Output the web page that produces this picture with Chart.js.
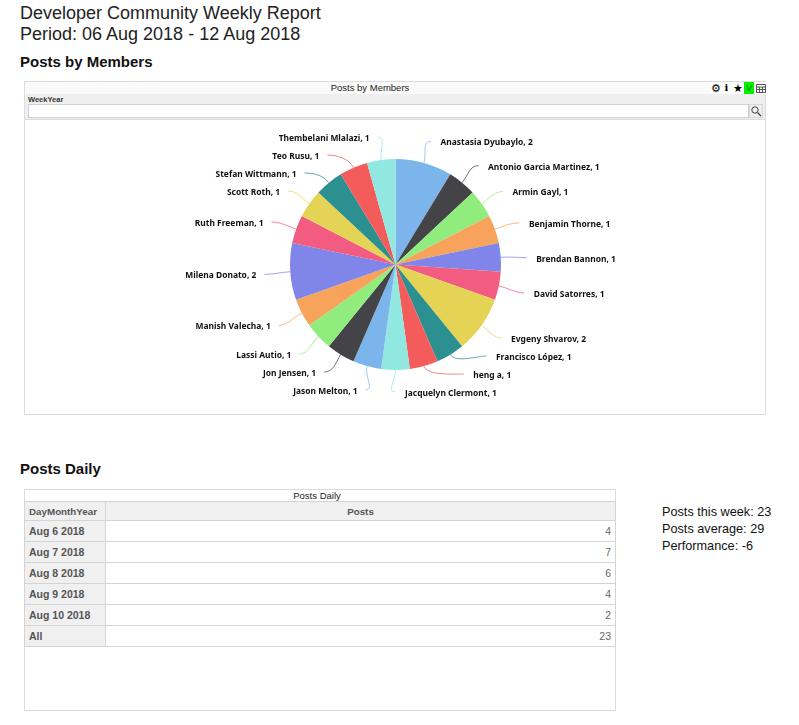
<!DOCTYPE html>
<html>
<head>
<meta charset="utf-8">
<title>Developer Community Weekly Report</title>
<script src="https://cdn.jsdelivr.net/npm/chart.js@4"></script>
<style>
  html, body { margin: 0; padding: 0; background: #fff; }
  body { width: 799px; height: 725px; position: relative; overflow: hidden; font-family: "Liberation Sans", Arial, sans-serif; color: #111; }
  .abs { position: absolute; white-space: nowrap; }
  .title { left: 20px; font-size: 18px; line-height: 21px; color: #222; }
  .section { left: 20px; font-size: 15px; font-weight: bold; line-height: 18px; color: #111; }
  .panel { border: 1px solid #dcdcdc; box-sizing: border-box; background: #fff; }
  .bar { text-align: center; font-size: 9.5px; line-height: 12px; color: #222; }
  .tool { top: 82px; width: 11px; height: 12px; line-height: 12px; text-align: center; font-size: 11px; background: #fff; color: #000; }
  #daily { position: absolute; left: 24px; top: 501px; border-collapse: collapse; table-layout: fixed; width: 592px; font-size: 10.5px; color: #555; }
  #daily th, #daily td { border: 1px solid #d4d4d4; padding: 0 4px; height: 21px; box-sizing: border-box; }
  #daily th { background: #f0f0f0; font-weight: bold; text-align: left; }
  #daily thead th { height: 19px; text-align: center; font-size: 9.8px; }
  #daily thead th:first-child { text-align: left; }
  #daily td { text-align: right; color: #666; }
  .stat { left: 662px; font-size: 12.7px; line-height: 17px; color: #111; }
</style>
</head>
<body>
<div class="abs title" style="top:3px">Developer Community Weekly Report</div>
<div class="abs title" style="top:24px">Period: 06 Aug 2018 - 12 Aug 2018</div>
<div class="abs section" style="top:53px">Posts by Members</div>

<div class="abs panel" style="left:24px;top:81px;width:742px;height:334px"></div>
<div class="abs bar" style="left:25px;top:82px;height:12px;background:#fafafa;width:740px"></div>
<div class="abs bar" style="left:25px;top:82px;width:690px;height:12px">Posts by Members</div>
<div class="abs tool" style="left:710px">&#9881;</div>
<div class="abs tool" style="left:721px;font-size:10px;font-weight:bold;font-family:'DejaVu Serif'">i</div>
<div class="abs tool" style="left:732px">&#9733;</div>
<div class="abs tool" style="left:744px;width:10px;background:#00f000;color:#0a8a0a;font-size:9px;font-style:italic">V</div>
<div class="abs tool" style="left:755px">
  <svg width="10" height="9" style="margin-top:2px;display:block;margin-left:1px"><path d="M.5 .5h9v8h-9zM.5 3h9M.5 5.5h9M3.5 3v5.5M6.5 3v5.5" fill="none" stroke="#555"/></svg>
</div>
<div class="abs" style="left:25px;top:94px;width:740px;height:25px;background:#efefef;border-bottom:1px solid #ddd"></div>
<div class="abs" style="left:28px;top:95px;font-size:7.5px;font-weight:bold;line-height:9px;color:#333">WeekYear</div>
<div class="abs" style="left:28px;top:104px;width:721px;height:14px;box-sizing:border-box;background:#fff;border:1px solid #cfcfcf"></div>
<div class="abs" style="left:749px;top:104px;width:14px;height:14px;box-sizing:border-box;background:#eee;border:1px solid #d8d8d8">
  <svg width="12" height="12" style="display:block"><circle cx="5" cy="5" r="3.2" fill="none" stroke="#444"/><path d="M7.5 7.5L11 11" stroke="#444" stroke-width="1.3"/></svg>
</div>
<canvas id="pie" class="abs" style="left:25px;top:120px" width="741" height="294"></canvas>

<div class="abs section" style="top:460px">Posts Daily</div>
<div class="abs panel" style="left:24px;top:489px;width:592px;height:222px"></div>
<div class="abs bar" style="left:25px;top:490px;width:584px;height:11px;line-height:11px">Posts Daily</div>
<table id="daily"><thead></thead><tbody></tbody></table>

<div class="abs stat" style="top:504px" id="s0"></div>
<div class="abs stat" style="top:521px" id="s1"></div>
<div class="abs stat" style="top:538px" id="s2"></div>

<script>
var members = ["Anastasia Dyubaylo", "Antonio Garcia Martinez", "Armin Gayl", "Benjamin Thorne", "Brendan Bannon",
  "David Satorres", "Evgeny Shvarov", "Francisco López", "heng a", "Jacquelyn Clermont", "Jason Melton", "Jon Jensen",
  "Lassi Autio", "Manish Valecha", "Milena Donato", "Ruth Freeman", "Scott Roth", "Stefan Wittmann", "Teo Rusu", "Thembelani Mlalazi"];
var memberPosts = [2, 1, 1, 1, 1, 1, 2, 1, 1, 1, 1, 1, 1, 1, 2, 1, 1, 1, 1, 1];
var palette = ["#7cb5ec", "#434348", "#90ed7d", "#f7a35c", "#8085e9", "#f15c80", "#e4d354", "#2b908f", "#f45b5b", "#91e8e1"];

var days = ["Aug 6 2018", "Aug 7 2018", "Aug 8 2018", "Aug 9 2018", "Aug 10 2018", "All"];
var dayPosts = [4, 7, 6, 4, 2, 23];
var summary = ["Posts this week: 23", "Posts average: 29", "Performance: -6"];

// table under the pie
document.querySelector("#daily thead").innerHTML =
  '<tr><th style="width:81px">DayMonthYear</th><th>Posts</th></tr>';
var rows = "";
for (var i = 0; i < days.length; i++) {
  rows += "<tr><th>" + days[i] + "</th><td>" + dayPosts[i] + "</td></tr>";
}
document.querySelector("#daily tbody").innerHTML = rows;
for (var s = 0; s < summary.length; s++) {
  document.getElementById("s" + s).textContent = summary[s];
}

// Slice labels with soft connectors, stacked per side so they don't overlap
var sliceLabels = {
  id: "sliceLabels",
  afterDatasetsDraw: function (chart) {
    var arcs = chart.getDatasetMeta(0).data;
    var ctx = chart.ctx;
    var ringR = 129, polarR = 131.5, gap = 18;
    var first = arcs[0].getProps(["x", "y"]);
    var cx = first.x, cy = first.y;
    var minY = cy - 127.5;
    var right = [], left = [];

    arcs.forEach(function (arc, n) {
      var p = arc.getProps(["startAngle", "endAngle", "outerRadius"]);
      var a = (p.startAngle + p.endAngle) / 2;
      var isRight = Math.cos(a) >= -0.001;
      var y = cy + Math.sin(a) * 130 + (isRight ? 2 : 1);
      var item = { n: n, a: a, r: p.outerRadius, ideal: y, y: y };
      (isRight ? right : left).push(item);
    });

    function stack(side, maxY) {
      side.sort(function (p, q) { return p.y - q.y; });
      var k;
      for (k = 0; k < side.length; k++) {
        side[k].y = Math.max(side[k].y, k ? side[k - 1].y + gap : minY);
      }
      for (k = side.length - 1; k >= 0; k--) {
        side[k].y = Math.min(side[k].y, k < side.length - 1 ? side[k + 1].y - gap : maxY);
      }
    }
    stack(right, cy + 127.5);
    stack(left, cy + 125.5);

    function draw(item, dir) {
      var dy = item.y - cy;
      var x = cx + Math.cos(item.a) * polarR;
      var moved = Math.abs(item.y - item.ideal) >= 3 || Math.abs(dy) > 124;
      if (moved && Math.abs(dy) <= 126.5) {
        x = cx + dir * Math.sqrt(ringR * ringR - dy * dy);
      }
      var ex = cx + Math.cos(item.a) * item.r, ey = cy + Math.sin(item.a) * item.r;
      var bx = cx + Math.cos(item.a) * (item.r + 10), by = cy + Math.sin(item.a) * (item.r + 10);
      ctx.strokeStyle = palette[item.n % palette.length];
      ctx.globalAlpha = 0.75;
      ctx.lineWidth = 1;
      ctx.beginPath();
      ctx.moveTo(ex, ey);
      ctx.bezierCurveTo(bx, by, x - dir * 9, item.y, x, item.y);
      ctx.stroke();
      ctx.globalAlpha = 1;
      ctx.fillStyle = "#111";
      ctx.font = 'bold 8.45px "Noto Sans"';
      ctx.textBaseline = "middle";
      ctx.textAlign = dir > 0 ? "left" : "right";
      ctx.fillText(members[item.n] + ", " + memberPosts[item.n], x + dir * (dir > 0 ? 9.5 : 8), item.y + 1.5);
    }
    ctx.save();
    right.forEach(function (item) { draw(item, 1); });
    left.forEach(function (item) { draw(item, -1); });
    ctx.restore();
  }
};

var pieChart = new Chart(document.getElementById("pie"), {
  type: "pie",
  data: {
    labels: members,
    datasets: [{
      data: memberPosts,
      backgroundColor: members.map(function (m, i) { return palette[i % palette.length]; }),
      borderWidth: 0,
      radius: 105.5
    }]
  },
  options: {
    responsive: false,
    animation: false,
    layout: { padding: { bottom: 5 } },
    plugins: { legend: { display: false }, tooltip: { enabled: false } }
  },
  plugins: [sliceLabels]
});
</script>
</body>
</html>
